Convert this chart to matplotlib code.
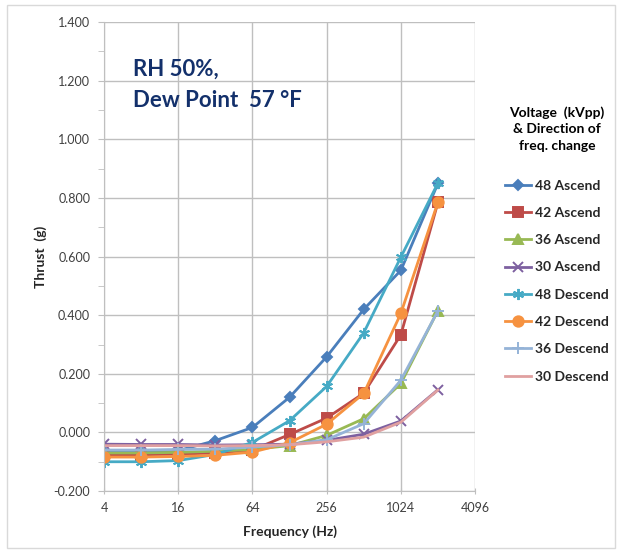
import numpy as np
import matplotlib
matplotlib.use("Agg")
import matplotlib.pyplot as plt
from matplotlib.patches import Rectangle

plt.rcParams['font.family'] = ['Lato', 'DejaVu Sans']

# thrust readings (g) at each drive frequency
freq = [4, 8, 16, 32, 64, 128, 256, 512, 1024, 2048]

asc48 = [-0.067, -0.066, -0.062, -0.028, 0.017, 0.120, 0.258, 0.420, 0.553, 0.850]
asc42 = [-0.076, -0.076, -0.074, -0.070, -0.060, -0.007, 0.049, 0.134, 0.333, 0.785]
asc36 = [-0.070, -0.070, -0.068, -0.064, -0.058, -0.045, -0.010, 0.047, 0.167, 0.416]
asc30 = [-0.040, -0.041, -0.041, -0.043, -0.042, -0.040, -0.027, -0.006, 0.039, 0.146]
desc48 = [-0.100, -0.100, -0.096, -0.075, -0.034, 0.040, 0.157, 0.340, 0.598, 0.851]
desc42 = [-0.084, -0.084, -0.082, -0.078, -0.067, -0.035, 0.028, 0.133, 0.406, 0.786]
desc36 = [-0.060, -0.060, -0.058, -0.057, -0.050, -0.042, -0.025, 0.030, 0.178, 0.415]
desc30 = [-0.045, -0.045, -0.045, -0.046, -0.045, -0.042, -0.032, -0.016, 0.035, 0.145]

labels = ["48 Ascend", "42 Ascend", "36 Ascend", "30 Ascend",
          "48 Descend", "42 Descend", "36 Descend", "30 Descend"]
xticks = [4, 16, 64, 256, 1024, 4096]

series = [asc48, asc42, asc36, asc30, desc48, desc42, desc36, desc30]
colors = ['#4A7EBB', '#BE4B48', '#98B954', '#7D60A0',
          '#46AAC5', '#F69240', '#95B3D7', '#E0A0A0']
markers = ['D', 's', '^', 'x', (6, 2, 0), 'o', '+', None]
msizes = [5.5, 6.5, 6.5, 7, 8, 7.5, 8, 0]

fig = plt.figure(figsize=(6.21, 5.53), dpi=100)
fig.patches.append(Rectangle((0.011, 0.009), 0.979, 0.982, transform=fig.transFigure,
                             fill=False, edgecolor='#D9D9D9', lw=1))
ax = fig.add_axes([0.1675, 0.112, 0.5975, 0.848])

for y, lab, c, m, ms in zip(series, labels, colors, markers, msizes):
    ax.plot(freq, y, color=c, lw=2, marker=m, markersize=ms, markeredgewidth=1.4,
            markerfacecolor=c, markeredgecolor=c, label=lab)

ax.set_xscale('log', base=2)
ax.set_xlim(4, 4096)
ax.set_xticks(xticks)
ax.set_xticklabels([str(t) for t in xticks])
ax.xaxis.set_minor_locator(plt.NullLocator())
ax.set_ylim(-0.2, 1.4)
ax.set_yticks(np.arange(-0.2, 1.41, 0.2))
ax.set_yticks(np.arange(-0.2, 1.41, 0.1), minor=True)
ax.yaxis.set_major_formatter(plt.FuncFormatter(lambda v, p: f"{v:.3f}"))

ax.grid(True, which='major', color='#BFBFBF', lw=1)
ax.set_axisbelow(True)
for s in ['top', 'right']:
    ax.spines[s].set_visible(False)
for s in ['left', 'bottom']:
    ax.spines[s].set_color('#BFBFBF')
ax.tick_params(axis='both', which='both', color='#BFBFBF', labelcolor='#404040',
               labelsize=9)
ax.tick_params(axis='y', which='both', length=4, pad=6)
ax.tick_params(axis='x', which='major', length=4, direction='inout', pad=6)

ax.set_xlabel("Frequency (Hz)", fontsize=10, fontweight='bold', color='#262626', labelpad=8)
ax.set_ylabel("Thrust  (g)", fontsize=10, fontweight='bold', color='#262626', labelpad=5)

fig.text(0.214, 0.875, "RH 50%,", fontsize=16, fontweight='bold', color='#13306B', va='center')
fig.text(0.214, 0.819, "Dew Point  57 °F", fontsize=16, fontweight='bold', color='#13306B',
         va='center')

leg = ax.legend(loc='upper center', bbox_to_anchor=(0.897, 0.818),
                bbox_transform=fig.transFigure, frameon=False,
                title="Voltage  (kVpp)\n& Direction of\nfreq. change",
                prop={'size': 10, 'weight': 'bold'}, labelspacing=1.1,
                handlelength=1.9, handletextpad=0.3, borderaxespad=0)
leg.get_title().set_fontweight('bold')
leg.get_title().set_fontsize(10)
leg.get_title().set_multialignment('center')
leg.get_title().set_linespacing(1.45)
leg._legend_box.sep = 20
for t in leg.get_texts():
    t.set_color('#262626')

fig.savefig("out.png", dpi=100)
